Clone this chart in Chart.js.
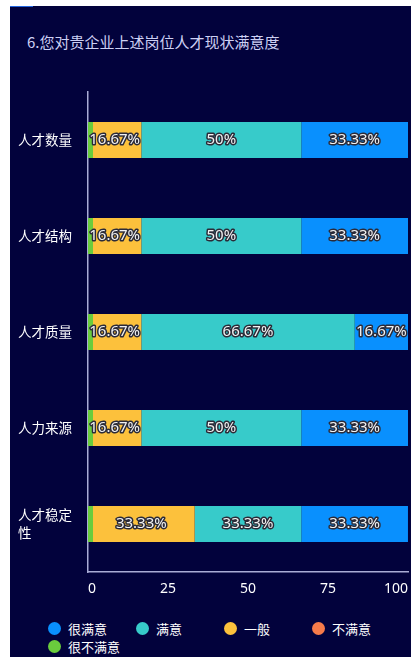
<!DOCTYPE html>
<html>
<head>
<meta charset="utf-8">
<script src="https://cdn.jsdelivr.net/npm/chart.js@4.4.1/dist/chart.umd.min.js"></script>
<style>
  body { margin: 0; background: #ffffff; }
  .panel {
    position: absolute; left: 10px; top: 6px; width: 401px; height: 651px;
    background: #02023c; overflow: hidden;
    font-family: "Noto Sans CJK SC", sans-serif;
  }
  .accent { position: absolute; left: 0; top: -1px; width: 23px; height: 2px; background: #2366e0; }
  .title { position: absolute; left: 17px; top: 26px; line-height: 20px; font-size: 15px; color: #cdd0f4; white-space: nowrap; }
  #chartWrap { position: absolute; left: 0; top: 0; width: 401px; height: 600px; }
  #legend { position: absolute; left: 38px; top: 613px; width: 360px; display: flex; flex-wrap: wrap; }
  .item { width: 88px; height: 18px; display: flex; align-items: center; font-size: 13px; color: #ffffff; }
  .dot { width: 13px; height: 13px; border-radius: 50%; margin-right: 7px; flex: none; }
</style>
</head>
<body>
<div class="panel">
  <div class="accent"></div>
  <div class="title">6.您对贵企业上述岗位人才现状满意度</div>
  <div id="chartWrap"><canvas id="satisfactionChart"></canvas></div>
  <div id="legend"></div>
</div>
<script>
// Categories and answer shares (%)
const categories = ["人才数量", "人才结构", "人才质量", "人力来源", ["人才稳定", "性"]];
const seriesNames = ["很不满意", "不满意", "一般", "满意", "很满意"];
const seriesColors = ["#6acc3d", "#f67b4a", "#fcc13c", "#37cbca", "#0990fe"];
const veryUnsatisfied = [0, 0, 0, 0, 0];
const unsatisfied = [0, 0, 0, 0, 0];
const neutral = [16.67, 16.67, 16.67, 16.67, 33.33];
const satisfied = [50, 50, 66.67, 50, 33.33];
const verySatisfied = [33.33, 33.33, 16.67, 33.33, 33.33];
const xTicks = [0, 25, 50, 75, 100];

const seriesValues = [veryUnsatisfied, unsatisfied, neutral, satisfied, verySatisfied];

// Percent labels drawn in the middle of each segment
const valueLabels = {
  id: "valueLabels",
  afterDatasetsDraw(chart) {
    const ctx = chart.ctx;
    ctx.save();
    ctx.font = '15px "Noto Sans", sans-serif';
    ctx.textAlign = "center";
    ctx.textBaseline = "middle";
    ctx.lineJoin = "round";
    ctx.lineWidth = 3;
    ctx.strokeStyle = "#2b2b38";
    ctx.fillStyle = "#f2f2f2";
    chart.data.datasets.forEach((ds, i) => {
      chart.getDatasetMeta(i).data.forEach((bar, j) => {
        const v = ds.data[j];
        if (!v) return;
        const text = v + "%";
        const x = (bar.x + bar.base) / 2;
        ctx.strokeText(text, x, bar.y);
        ctx.fillText(text, x, bar.y);
      });
    });
    ctx.restore();
  },
};

const datasets = seriesNames.map((name, i) => ({
  label: name,
  data: seriesValues[i],
  backgroundColor: seriesColors[i],
  borderWidth: 0,
  stack: "main",
}));
// the "很不满意" strip sits on top of the stack start, drawn with a minimum length
datasets[0].stack = "low";
datasets[0].grouped = false;
datasets[0].minBarLength = 5;

const axisColor = "#a9acd6";

const chart = new Chart(document.getElementById("satisfactionChart"), {
  type: "bar",
  data: { labels: categories, datasets },
  options: {
    indexAxis: "y",
    responsive: true,
    maintainAspectRatio: false,
    animation: false,
    categoryPercentage: 1,
    barPercentage: 0.375,
    layout: { padding: { top: 86, left: 8, right: 3, bottom: 6 } },
    scales: {
      x: {
        stacked: true,
        min: 0,
        max: 100,
        afterBuildTicks: (s) => { s.ticks = xTicks.map((v) => ({ value: v })); },
        afterFit: (s) => {
          s.height = 28;
          // labels are aligned inside, no overhang room needed
          s.paddingLeft = 0;
          s.paddingRight = 0;
        },
        grid: { display: false, drawTicks: false },
        border: { display: true, color: axisColor, width: 1.5 },
        ticks: {
          align: "inner",
          padding: 9,
          color: "#ffffff",
          font: { family: "Noto Sans", size: 14 },
        },
      },
      y: {
        stacked: true,
        afterFit: (s) => { s.width = 70; },
        grid: { display: false, drawTicks: false },
        border: { display: true, color: axisColor, width: 1.5 },
        ticks: {
          crossAlign: "far",
          padding: 16,
          color: "#ffffff",
          font: { family: "Noto Sans CJK SC", size: 13.5, lineHeight: 1.3 },
        },
      },
    },
    plugins: {
      legend: { display: false },
      tooltip: { enabled: false },
    },
  },
  plugins: [valueLabels],
});

// Legend, listed from 很满意 down to 很不满意
const legendEl = document.getElementById("legend");
chart.data.datasets.slice().reverse().forEach((ds) => {
  const item = document.createElement("div");
  item.className = "item";
  const dot = document.createElement("span");
  dot.className = "dot";
  dot.style.background = ds.backgroundColor;
  const label = document.createElement("span");
  label.textContent = ds.label;
  item.appendChild(dot);
  item.appendChild(label);
  legendEl.appendChild(item);
});
</script>
</body>
</html>
